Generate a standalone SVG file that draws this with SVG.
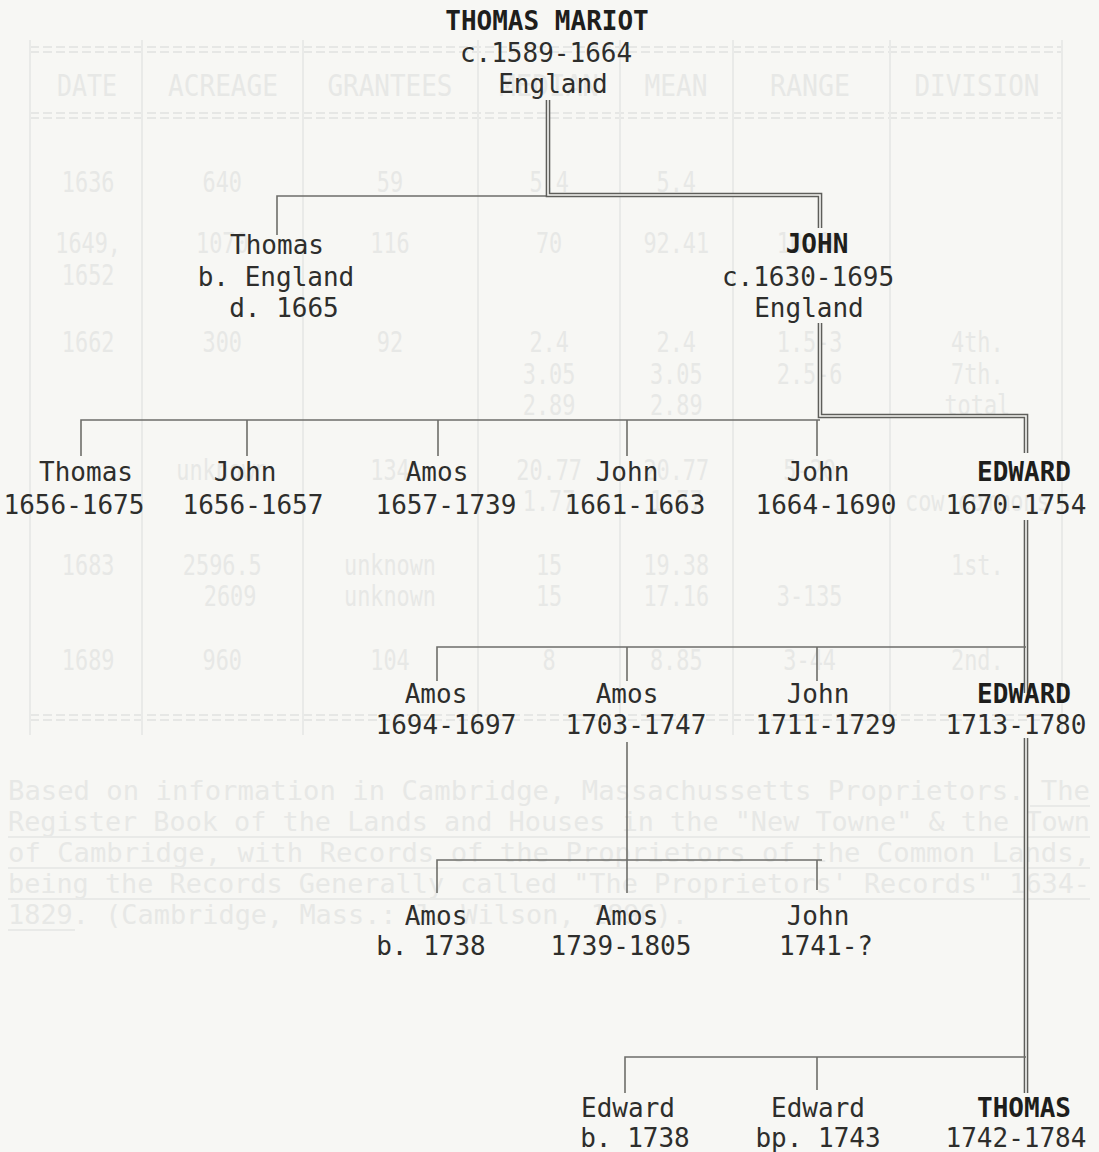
<svg xmlns="http://www.w3.org/2000/svg" width="1099" height="1152" viewBox="0 0 1099 1152">
<style>
.bg{fill:#f7f7f4}
.ghost text{font-family:"DejaVu Sans Mono","Liberation Mono",monospace;fill:#e7e8e6;text-anchor:middle}
.ghost .hd{font-size:30px}
.ghost .cell{font-size:28px}
.ghost .para{font-size:26px;text-anchor:start}
.gline{stroke:#e9eae8;stroke-width:2;fill:none}
.gdash{stroke:#e6e7e5;stroke-width:2;stroke-dasharray:9 4;fill:none}
.node text{font-family:"DejaVu Sans Mono","Liberation Mono",monospace;font-size:26px;fill:#2e2e2c;text-anchor:middle}
.node text.b{font-weight:bold;fill:#1e1e1c}
.single{stroke:#6e6e6a;stroke-width:1.6;fill:none}
.dblo{stroke:#5e5e5a;stroke-width:4.6;fill:none}
.dbli{stroke:#f7f7f4;stroke-width:1.6;fill:none}
</style>
<rect class="bg" x="0" y="0" width="1099" height="1152"/>

<g id="ghost" class="ghost">
  <path class="gdash" d="M30 47H1062M30 52H1062M30 113H1062M30 118H1062M30 715H1062M30 720H1062"/>
  <path class="gline" d="M30 40V735M142 40V735M303 40V735M478 40V735M620 40V735M733 40V735M890 40V735M1062 40V735"/>
  <text class="hd" x="87" y="96" textLength="60" lengthAdjust="spacingAndGlyphs">DATE</text>
  <text class="hd" x="223" y="96" textLength="110" lengthAdjust="spacingAndGlyphs">ACREAGE</text>
  <text class="hd" x="390" y="96" textLength="125" lengthAdjust="spacingAndGlyphs">GRANTEES</text>
  <text class="hd" x="549" y="96" textLength="100" lengthAdjust="spacingAndGlyphs">MEDIAN</text>
  <text class="hd" x="676" y="96" textLength="63" lengthAdjust="spacingAndGlyphs">MEAN</text>
  <text class="hd" x="810" y="96" textLength="80" lengthAdjust="spacingAndGlyphs">RANGE</text>
  <text class="hd" x="977" y="96" textLength="125" lengthAdjust="spacingAndGlyphs">DIVISION</text>
  <g transform="scale(0.78 1)">
    <text class="cell" x="113" y="192">1636</text><text class="cell" x="285" y="192">640</text><text class="cell" x="500" y="192">59</text><text class="cell" x="704" y="192">5.4</text><text class="cell" x="867" y="192">5.4</text>
    <text class="cell" x="113" y="253">1649,</text><text class="cell" x="285" y="253">1070</text><text class="cell" x="500" y="253">116</text><text class="cell" x="704" y="253">70</text><text class="cell" x="867" y="253">92.41</text><text class="cell" x="1038" y="253">10-40</text>
    <text class="cell" x="113" y="285">1652</text>
    <text class="cell" x="113" y="352">1662</text><text class="cell" x="285" y="352">300</text><text class="cell" x="500" y="352">92</text><text class="cell" x="704" y="352">2.4</text><text class="cell" x="867" y="352">2.4</text><text class="cell" x="1038" y="352">1.5-3</text><text class="cell" x="1253" y="352">4th.</text>
    <text class="cell" x="704" y="384">3.05</text><text class="cell" x="867" y="384">3.05</text><text class="cell" x="1038" y="384">2.5-6</text><text class="cell" x="1253" y="384">7th.</text>
    <text class="cell" x="704" y="415">2.89</text><text class="cell" x="867" y="415">2.89</text><text class="cell" x="1253" y="415">total</text>
    <text class="cell" x="285" y="480">unknown</text><text class="cell" x="500" y="480">134</text><text class="cell" x="704" y="480">20.77</text><text class="cell" x="867" y="480">20.77</text><text class="cell" x="1038" y="480">5-20</text>
    <text class="cell" x="704" y="511">1.77</text><text class="cell" x="867" y="511">1.77</text><text class="cell" x="1253" y="511">cow commons</text>
    <text class="cell" x="113" y="575">1683</text><text class="cell" x="285" y="575">2596.5</text><text class="cell" x="500" y="575">unknown</text><text class="cell" x="704" y="575">15</text><text class="cell" x="867" y="575">19.38</text><text class="cell" x="1253" y="575">1st.</text>
    <text class="cell" x="295" y="606">2609</text><text class="cell" x="500" y="606">unknown</text><text class="cell" x="704" y="606">15</text><text class="cell" x="867" y="606">17.16</text><text class="cell" x="1038" y="606">3-135</text>
    <text class="cell" x="113" y="670">1689</text><text class="cell" x="285" y="670">960</text><text class="cell" x="500" y="670">104</text><text class="cell" x="704" y="670">8</text><text class="cell" x="867" y="670">8.85</text><text class="cell" x="1038" y="670">3-44</text><text class="cell" x="1253" y="670">2nd.</text>
  </g>
  <text class="para" x="8" y="800" textLength="1082" lengthAdjust="spacingAndGlyphs">Based on information in Cambridge, Massachussetts Proprietors. The</text>
  <text class="para" x="8" y="831" textLength="1082" lengthAdjust="spacingAndGlyphs">Register Book of the Lands and Houses in the "New Towne" &amp; the Town</text>
  <text class="para" x="8" y="862" textLength="1082" lengthAdjust="spacingAndGlyphs">of Cambridge, with Records of the Proprietors of the Common Lands,</text>
  <text class="para" x="8" y="893" textLength="1082" lengthAdjust="spacingAndGlyphs">being the Records Generally called "The Proprietors' Records" 1634-</text>
  <text class="para" x="8" y="924" textLength="680" lengthAdjust="spacingAndGlyphs">1829. (Cambridge, Mass.: J. Wilson, 1896).</text>
  <path class="gline" d="M1030 806H1090M8 837H1090M8 868H1090M8 899H1090M8 930H75"/>
</g>

<g id="connectors">
  <path class="single" d="M277 235V196H548"/>
  <path class="dblo" d="M548 100V195H820V228"/>
  <path class="dbli" d="M548 100V195H820V228"/>
  <path class="dblo" d="M820 323V416H1026V453"/>
  <path class="dbli" d="M820 323V416H1026V453"/>
  <path class="single" d="M81 456V420H820M247 420V456M438 420V456M627 420V456M817 420V456"/>
  <path class="dblo" d="M1026 520V693"/>
  <path class="dbli" d="M1026 520V693"/>
  <path class="single" d="M437 681V647H1026M627 647V681M817 647V681"/>
  <path class="dblo" d="M1026 738V1093"/>
  <path class="dbli" d="M1026 738V1093"/>
  <path class="single" d="M627 742V893M437 893V860H822M817 860V890"/>
  <path class="single" d="M625 1093V1057H1026M817 1057V1090"/>
</g>

<g id="n-thomas-mariot" class="node">
  <text class="b" x="547" y="30">THOMAS MARIOT</text>
  <text x="546" y="62">c.1589-1664</text>
  <text x="553" y="93">England</text>
</g>
<g id="n-thomas-1" class="node">
  <text x="277" y="254">Thomas</text>
  <text x="276" y="286">b. England</text>
  <text x="284" y="317">d. 1665</text>
</g>
<g id="n-john-1" class="node">
  <text class="b" x="817" y="253">JOHN</text>
  <text x="808" y="286">c.1630-1695</text>
  <text x="809" y="317">England</text>
</g>
<g id="n-thomas-2" class="node"><text x="86" y="481">Thomas</text><text x="74" y="514">1656-1675</text></g>
<g id="n-john-2" class="node"><text x="245" y="481">John</text><text x="253" y="514">1656-1657</text></g>
<g id="n-amos-2" class="node"><text x="437" y="481">Amos</text><text x="446" y="514">1657-1739</text></g>
<g id="n-john-3" class="node"><text x="627" y="481">John</text><text x="635" y="514">1661-1663</text></g>
<g id="n-john-4" class="node"><text x="818" y="481">John</text><text x="826" y="514">1664-1690</text></g>
<g id="n-edward-1" class="node"><text class="b" x="1024" y="481">EDWARD</text><text x="1016" y="514">1670-1754</text></g>

<g id="n-amos-3" class="node"><text x="436" y="703">Amos</text><text x="446" y="734">1694-1697</text></g>
<g id="n-amos-4" class="node"><text x="627" y="703">Amos</text><text x="636" y="734">1703-1747</text></g>
<g id="n-john-5" class="node"><text x="818" y="703">John</text><text x="826" y="734">1711-1729</text></g>
<g id="n-edward-2" class="node"><text class="b" x="1024" y="703">EDWARD</text><text x="1016" y="734">1713-1780</text></g>

<g id="n-amos-5" class="node"><text x="436" y="925">Amos</text><text x="431" y="955">b. 1738</text></g>
<g id="n-amos-6" class="node"><text x="627" y="925">Amos</text><text x="621" y="955">1739-1805</text></g>
<g id="n-john-6" class="node"><text x="818" y="925">John</text><text x="826" y="955">1741-?</text></g>

<g id="n-edward-3" class="node"><text x="628" y="1117">Edward</text><text x="635" y="1147">b. 1738</text></g>
<g id="n-edward-4" class="node"><text x="818" y="1117">Edward</text><text x="818" y="1147">bp. 1743</text></g>
<g id="n-thomas-3" class="node"><text class="b" x="1024" y="1117">THOMAS</text><text x="1016" y="1147">1742-1784</text></g>
</svg>
